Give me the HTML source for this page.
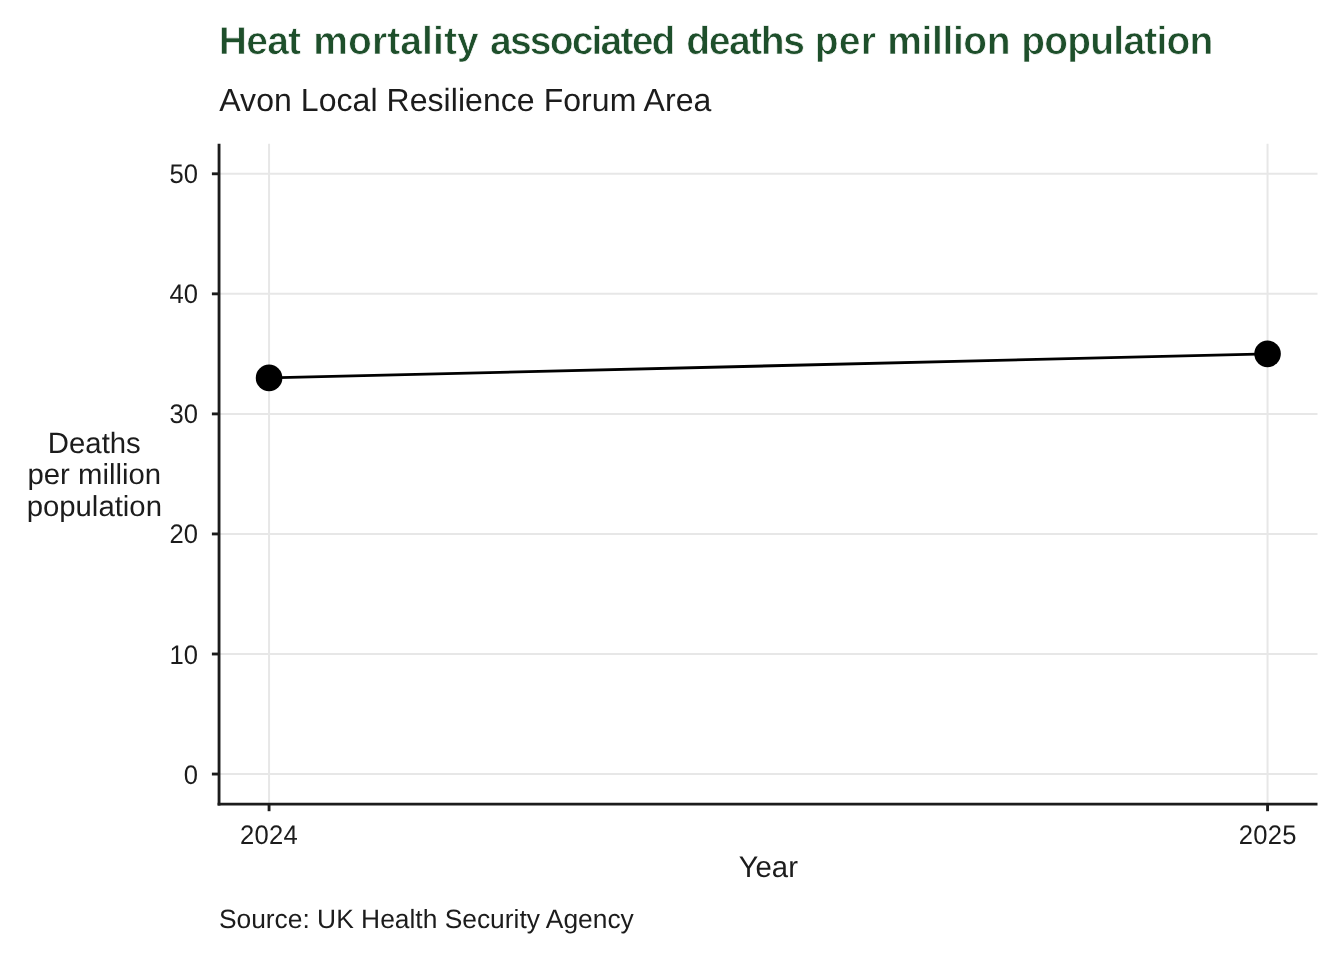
<!DOCTYPE html>
<html lang="en">
<head>
<meta charset="utf-8">
<title>Heat mortality associated deaths per million population</title>
<style>
html,body{margin:0;padding:0;background:#fff;}
body{width:1344px;height:960px;overflow:hidden;}
svg{display:block;}
text{font-family:"Liberation Sans",Arial,Helvetica,sans-serif;fill:#1c1c1c;text-rendering:geometricPrecision;}
.title{font-weight:bold;font-size:39px;fill:#1e4f2b;stroke:#fff;stroke-width:0.7px;}
.sub{font-size:32px;}
.ax{font-size:25.6px;}
.axt{font-size:29.33px;}
.cap{font-size:26.38px;}
.grid line{stroke:#e7e7e7;stroke-width:2;}
.axis line{stroke:#1c1c1c;stroke-width:2.85;}
</style>
</head>
<body>
<svg width="1344" height="960" viewBox="0 0 1344 960">
<rect width="1344" height="960" fill="#ffffff"/>
<text class="title" y="53.8"><tspan x="218.75" style="letter-spacing:-0.73px">Heat</tspan> <tspan x="313.25" style="letter-spacing:0.09px">mortality</tspan> <tspan x="490.0" style="letter-spacing:-1.8px">associated</tspan> <tspan x="686.25" style="letter-spacing:-1.42px">deaths</tspan> <tspan x="814.75" style="letter-spacing:0.19px">per</tspan> <tspan x="887.25" style="letter-spacing:-0.38px">million</tspan> <tspan x="1021.25" style="letter-spacing:-0.8px">population</tspan></text>
<text class="sub" transform="translate(219.3 110.9) scale(1 1.0)" textLength="492" lengthAdjust="spacing">Avon Local Resilience Forum Area</text>
<g class="grid">
<line x1="219.05" x2="1317.5" y1="173.8" y2="173.8"/>
<line x1="219.05" x2="1317.5" y1="293.85" y2="293.85"/>
<line x1="219.05" x2="1317.5" y1="413.9" y2="413.9"/>
<line x1="219.05" x2="1317.5" y1="533.95" y2="533.95"/>
<line x1="219.05" x2="1317.5" y1="654.0" y2="654.0"/>
<line x1="219.05" x2="1317.5" y1="774.05" y2="774.05"/>
<line x1="269.06" x2="269.06" y1="143.79" y2="804.06"/>
<line x1="1267.56" x2="1267.56" y1="143.79" y2="804.06"/>
</g>
<line x1="269.06" y1="377.88" x2="1267.56" y2="353.87" stroke="#000" stroke-width="2.85"/>
<circle cx="269.06" cy="377.88" r="13.3" fill="#000"/>
<circle cx="1267.56" cy="353.87" r="13.3" fill="#000"/>
<g class="axis">
<line x1="219.05" x2="219.05" y1="143.79" y2="805.48"/>
<line x1="217.62" x2="1317.5" y1="804.06" y2="804.06"/>
<line x1="211.9" x2="219.05" y1="173.8" y2="173.8"/>
<line x1="211.9" x2="219.05" y1="293.85" y2="293.85"/>
<line x1="211.9" x2="219.05" y1="413.9" y2="413.9"/>
<line x1="211.9" x2="219.05" y1="533.95" y2="533.95"/>
<line x1="211.9" x2="219.05" y1="654.0" y2="654.0"/>
<line x1="211.9" x2="219.05" y1="774.05" y2="774.05"/>
<line x1="269.06" x2="269.06" y1="804.06" y2="811.2"/>
<line x1="1267.56" x2="1267.56" y1="804.06" y2="811.2"/>
</g>
<g class="ax" text-anchor="end">
<text transform="translate(197.95 182.52) scale(1 1.045)">50</text>
<text transform="translate(197.95 302.57) scale(1 1.045)">40</text>
<text transform="translate(197.95 422.62) scale(1 1.045)">30</text>
<text transform="translate(197.95 542.67) scale(1 1.045)">20</text>
<text transform="translate(197.95 663.65) scale(1 1.045)">10</text>
<text transform="translate(197.95 783.7) scale(1 1.045)">0</text>
</g>
<g class="ax" text-anchor="middle" style="letter-spacing:0.25px">
<text transform="translate(269.01 843.6) scale(1 1.045)">2024</text>
<text transform="translate(1267.66 843.6) scale(1 1.045)">2025</text>
</g>
<text class="axt" transform="translate(768.3 876.9) scale(1 1.02)" text-anchor="middle">Year</text>
<g class="axt" text-anchor="middle">
<text transform="translate(94.3 452.8) scale(1 1.0)">Deaths</text>
<text transform="translate(94.3 483.6) scale(1 0.985)">per million</text>
<text transform="translate(94.3 515.5) scale(1 0.985)">population</text>
</g>
<text class="cap" transform="translate(218.9 927.7) scale(1 1.0)">Source: UK Health Security Agency</text>
</svg>
</body>
</html>
